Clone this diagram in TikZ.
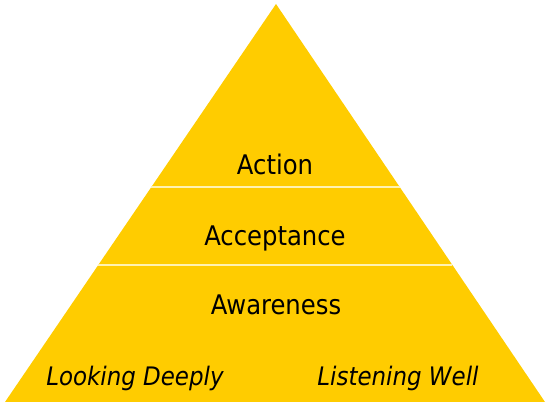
\documentclass[tikz,border=0pt]{standalone}
\usepackage{fontspec}
\setmainfont{DejaVu Sans Condensed}
\usepackage{tikz}
\usetikzlibrary{calc}
\usetikzlibrary{positioning}
\usepackage{verbatim,color,xcolor}
\definecolor{gold}{rgb}{1.0,0.8,0.0}
\definecolor{paleline}{rgb}{1.0,0.95,0.7}
\tikzset{level/.style={font=\fontsize{27}{32}\selectfont, inner sep=0pt, anchor=base},
  base/.style={font=\fontsize{25.5}{30}\selectfont\itshape, inner sep=0pt, anchor=base}}

\begin{document}
\begin{tikzpicture}[x=1pt,y=1pt]
          \useasboundingbox (0,0) rectangle (550,409);
          \coordinate (L) at (5,7);
          \coordinate (R) at (545,7);
          \coordinate (T) at (276,405);
          \fill[gold] (L) -- (R) -- (T) -- cycle;
          \coordinate (A1) at ($(L)!0.3442!(T)$);
          \coordinate (B1) at ($(R)!0.3442!(T)$);
          \coordinate (A2) at ($(L)!0.5402!(T)$);
          \coordinate (B2) at ($(R)!0.5402!(T)$);
          \draw[paleline, line width=1.5pt] (A1) -- (B1);
          \draw[paleline, line width=1.5pt] (A2) -- (B2);
          \node[level] (act) at (275,234) {Action};
          \node[level] (acc) at (275,163) {Acceptance};
          \node[level] (awa) at (276,94) {Awareness};
          \node[base] (look) at (135,23) {Looking Deeply};
          \node[base] (list) at (398,23) {Listening Well};
        \end{tikzpicture}
\end{document}
